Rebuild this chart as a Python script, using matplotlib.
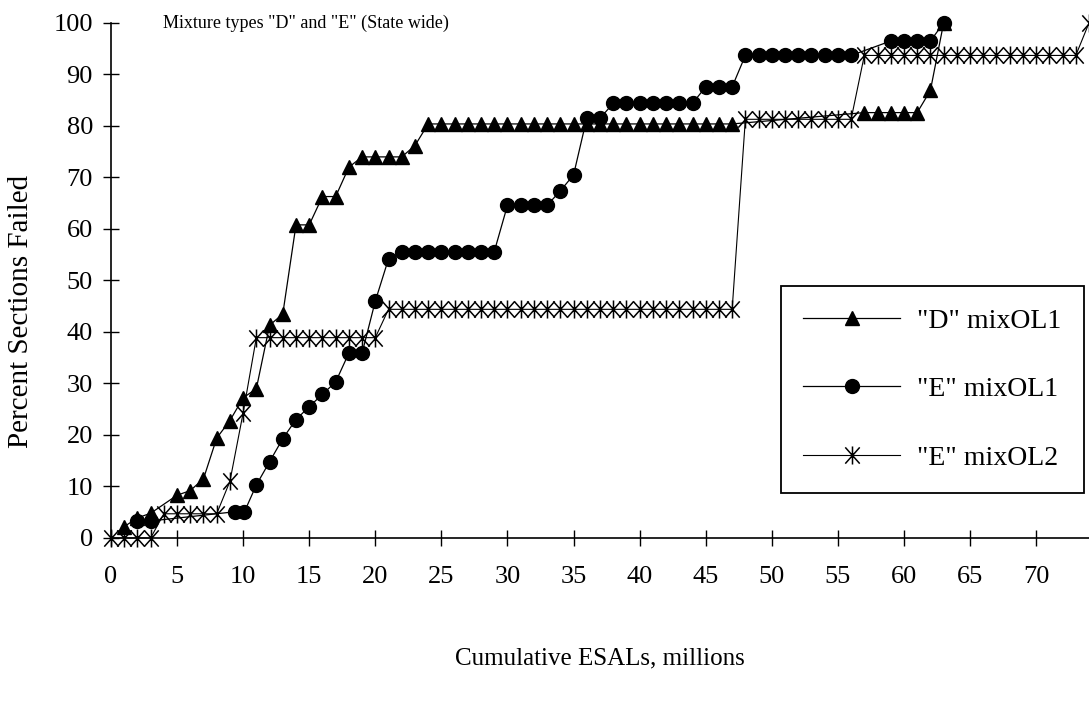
import numpy as np
import matplotlib
matplotlib.use("Agg")
import matplotlib.pyplot as plt
from matplotlib.path import Path

plt.rcParams['font.family'] = ['Liberation Serif', 'DejaVu Serif']

# "D" mix OL1 (triangles)
d_ol1_x = [1, 2, 3, 5, 6, 7, 8, 9, 10, 11, 12, 13, 14, 15, 16, 17, 18, 19, 20, 21, 22, 23] + list(range(24, 48)) + [57, 58, 59, 60, 61, 62, 63]
d_ol1_y = [2.2, 3.9, 4.8, 8.3, 9.2, 11.5, 19.4, 22.8, 27.2, 29.0, 41.3, 43.5, 60.8, 60.8, 66.3, 66.3, 72.0, 74.0, 74.0, 74.0, 74.0, 76.2] + [80.4] * 24 + [82.6, 82.6, 82.6, 82.6, 82.6, 86.9, 100.0]

# "E" mix OL1 (circles)
e_ol1_x = [2, 3, 9.4, 10.1, 11, 12, 13, 14, 15, 16, 17, 18, 19, 20, 21] + list(range(22, 30)) + [30, 31, 32, 33, 34, 35, 36, 37] + list(range(38, 45)) + [45, 46, 47] + list(range(48, 57)) + [59, 60, 61, 62, 63]
e_ol1_y = [3.3, 3.3, 5.1, 5.1, 10.3, 14.8, 19.3, 23.0, 25.5, 27.9, 30.3, 35.9, 35.9, 46.0, 54.2] + [55.6] * 8 + [64.6, 64.6, 64.6, 64.6, 67.4, 70.5, 81.5, 81.5] + [84.4] * 7 + [87.6, 87.6, 87.6] + [93.7] * 9 + [96.5, 96.5, 96.5, 96.5, 100.0]

# "E" mix OL2 (asterisks)
e_ol2_x = [0, 1, 2, 3, 4, 5, 6, 7, 8, 9, 10] + list(range(11, 21)) + list(range(21, 48)) + list(range(48, 57)) + list(range(57, 74)) + [74]
e_ol2_y = [0, 0, 0, 0, 4.7, 4.7, 4.7, 4.7, 4.7, 11.0, 24.3] + [38.9] * 10 + [44.4] * 27 + [81.3] * 9 + [93.7] * 17 + [100.0]

x_ticks = list(range(0, 75, 5))
y_ticks = list(range(0, 101, 10))

# asterisk marker: vertical bar plus an X
star = Path([(0, -1), (0, 1), (-0.8, -0.9), (0.8, 0.9), (-0.8, 0.9), (0.8, -0.9)],
            [Path.MOVETO, Path.LINETO, Path.MOVETO, Path.LINETO, Path.MOVETO, Path.LINETO])

fig = plt.figure(figsize=(10.89, 7.12), dpi=100)
ax = fig.add_axes([0.1019, 0.2444, 0.8981, 0.7233])

ax.plot(d_ol1_x, d_ol1_y, color="black", linewidth=0.9, marker="^", markersize=10,
        clip_on=False, label='"D" mixOL1')
ax.plot(e_ol1_x, e_ol1_y, color="black", linewidth=0.9, marker="o", markersize=10,
        clip_on=False, label='"E" mixOL1')
ax.plot(e_ol2_x, e_ol2_y, color="black", linewidth=0.8, marker=star, markersize=13,
        markeredgewidth=1.1, markerfacecolor="none", clip_on=False, label='"E" mixOL2')

ax.set_xlim(0, 74.0)
ax.set_ylim(0, 100)
ax.set_xticks(x_ticks)
ax.set_yticks(y_ticks)
ax.tick_params(direction="inout", length=12, width=1.0, labelsize=19)
ax.tick_params(axis="y", pad=7)
ax.tick_params(axis="x", pad=14)

ax.spines['top'].set_visible(False)
ax.spines['right'].set_visible(False)
ax.spines['left'].set_linewidth(1.2)
ax.spines['bottom'].set_linewidth(1.2)

ax.set_xlabel("Cumulative ESALs, millions", fontsize=18, labelpad=43)
ax.set_ylabel("Percent Sections Failed", fontsize=21)
ax.yaxis.set_label_coords(-0.079, 0.44)

fig.text(0.1497, 1 - 28 / 712, 'Mixture types "D" and "E" (State wide)', fontsize=13, va="baseline")

leg = ax.legend(loc="upper left", bbox_to_anchor=(781 / 1089, 1 - 286 / 712), bbox_transform=fig.transFigure,
                fontsize=20, frameon=True, fancybox=False, edgecolor="black", framealpha=1,
                handlelength=3.5, labelspacing=1.55, borderpad=0.8, handletextpad=0.6, borderaxespad=0)
leg.get_frame().set_linewidth(1.3)

plt.savefig("out.png", dpi=100)
plt.close()
